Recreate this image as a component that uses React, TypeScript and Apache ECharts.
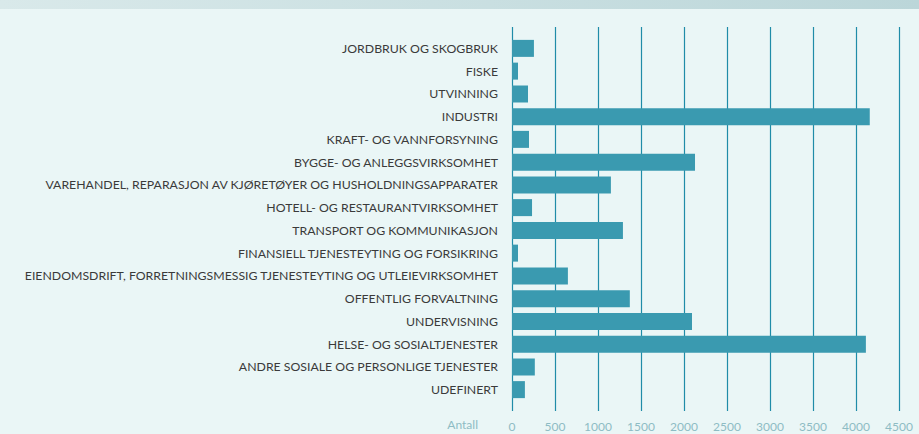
import React, { useEffect, useRef } from "react";
import * as echarts from "echarts";

const categories = [
  "JORDBRUK OG SKOGBRUK",
  "FISKE",
  "UTVINNING",
  "INDUSTRI",
  "KRAFT- OG VANNFORSYNING",
  "BYGGE- OG ANLEGGSVIRKSOMHET",
  "VAREHANDEL, REPARASJON AV KJØRETØYER OG HUSHOLDNINGSAPPARATER",
  "HOTELL- OG RESTAURANTVIRKSOMHET",
  "TRANSPORT OG KOMMUNIKASJON",
  "FINANSIELL TJENESTEYTING OG FORSIKRING",
  "EIENDOMSDRIFT, FORRETNINGSMESSIG TJENESTEYTING OG UTLEIEVIRKSOMHET",
  "OFFENTLIG FORVALTNING",
  "UNDERVISNING",
  "HELSE- OG SOSIALTJENESTER",
  "ANDRE SOSIALE OG PERSONLIGE TJENESTER",
  "UDEFINERT",
];

const values = [255, 70, 186, 4160, 198, 2128, 1150, 233, 1290, 70, 650, 1370, 2093, 4115, 265, 150];

const axisMin = 0;
const axisMax = 4500;
const axisStep = 500;
const axisName = "Antall";

export default function App() {
  const ref = useRef<HTMLDivElement>(null);
  useEffect(() => {
    if (!ref.current) return;
    const chart = echarts.init(ref.current, undefined, { renderer: "svg" });
    const font = "Lato, 'Open Sans', sans-serif";
    chart.setOption({
      animation: false,
      backgroundColor: "#eaf6f6",
      graphic: [
        {
          type: "rect",
          left: 0,
          top: 0,
          shape: { width: 919, height: 9 },
          style: {
            fill: new echarts.graphic.LinearGradient(0, 0, 1, 0, [
              { offset: 0, color: "#d9e9ea" },
              { offset: 1, color: "#bbd6d9" },
            ]),
          },
          silent: true,
        },
        {
          type: "text",
          right: 441,
          top: 418,
          style: {
            text: axisName,
            fill: "#8ebcc4",
            font: `12px ${font}`,
          },
        },
      ],
      grid: [
        { left: 512, right: 20, top: 27, bottom: 23 },
        { left: 512, right: 20, top: 37, bottom: 33 },
      ],
      xAxis: [
        {
          gridIndex: 0,
          type: "value",
          min: axisMin,
          max: axisMax,
          interval: axisStep,
          axisLine: { show: false },
          axisTick: { show: false },
          splitLine: { show: true, lineStyle: { color: "#1f8ca8", width: 1.2 } },
          axisLabel: {
            color: "#8ebcc4",
            fontSize: 12,
            fontFamily: font,
            margin: 9,
            formatter: (v: number) => String(v),
          },
        },
        {
          gridIndex: 1,
          type: "value",
          min: axisMin,
          max: axisMax,
          interval: axisStep,
          show: false,
          splitLine: { show: false },
        },
      ],
      yAxis: [
        {
          gridIndex: 0,
          type: "category",
          data: categories,
          show: false,
        },
        {
          gridIndex: 1,
          type: "category",
          data: categories,
          inverse: true,
          axisLine: { show: false },
          axisTick: { show: false },
          splitLine: { show: false },
          axisLabel: { color: "#3a3a3a", fontSize: 12.3, fontFamily: font, margin: 14 },
        },
      ],
      series: [
        {
          type: "bar",
          xAxisIndex: 1,
          yAxisIndex: 1,
          data: values,
          barWidth: 17,
          itemStyle: { color: "#3a9ab0" },
          z: 1,
        },
      ],
    });
    return () => chart.dispose();
  }, []);
  return <div ref={ref} style={{ width: 919, height: 434, position: "absolute", left: 0, top: 0 }} />;
}
